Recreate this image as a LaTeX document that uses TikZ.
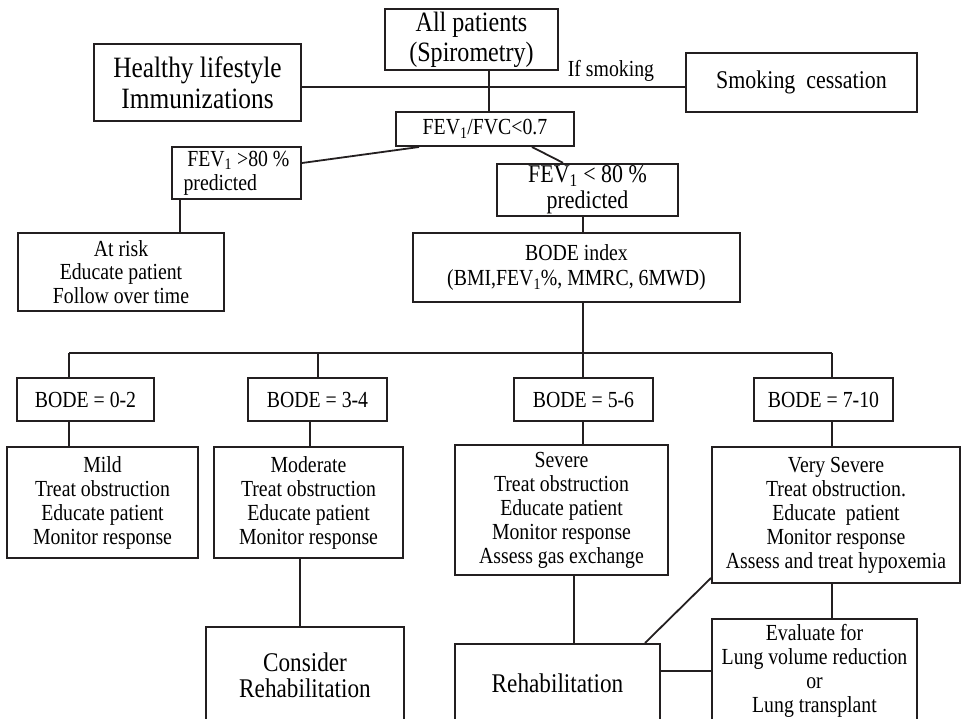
\documentclass[tikz,border=0pt]{standalone}
\usepackage{fontspec}
\setmainfont[FakeStretch=0.86]{Liberation Serif}
\usepackage{tikz}
\definecolor{Bline}{RGB}{35,31,32}
\tikzset{box/.style={draw=Bline,line width=2pt,align=center,inner sep=2pt,
                     font=\fontsize{23}{24}\selectfont},
         link/.style={draw=Bline,line width=1.8pt}}

\begin{document}
\begin{tikzpicture}[x=1pt,y=-1pt]
    \useasboundingbox (0,0) rectangle (962,719);
    \clip (0,0) rectangle (962,719);
    % top row
    \node [box,minimum width=173,minimum height=61,font=\fontsize{28}{30}\selectfont] (allpat) at (471.5,39.5) {All patients\\(Spirometry)};
    \node [box,minimum width=207,minimum height=77,font=\fontsize{29.5}{31}\selectfont] (healthy) at (197.5,82.5) {Healthy lifestyle\\Immunizations};
    \node [box,minimum width=231,minimum height=59,font=\fontsize{25.5}{26}\selectfont] (smoking) at (801.5,82.5) {Smoking\ \ cessation};
    \node [font=\fontsize{23}{24}\selectfont,inner sep=0pt] (ifsmk) at (611,71) {If smoking};
    \node [box,minimum width=178,minimum height=34] (fevfvc) at (485,129) {FEV\textsubscript{1}/FVC<0.7};
    \node [box,minimum width=129,minimum height=52,align=left] (fevhi) at (236.5,173) {\,FEV\textsubscript{1} >80 \%\\predicted};
    \node [box,minimum width=181,minimum height=52,font=\fontsize{25.5}{26}\selectfont] (fevlo) at (587.5,190) {FEV\textsubscript{1} < 80 \%\\predicted};
    \node [box,minimum width=206,minimum height=78,font=\fontsize{23}{23.5}\selectfont] (atrisk) at (121,272) {At risk\\Educate patient\\Follow over time};
    \node [box,minimum width=327,minimum height=69,font=\fontsize{23}{25}\selectfont] (bode) at (576.5,267.5) {BODE index\\(BMI,FEV\textsubscript{1}\%, MMRC, 6MWD)};
    % BODE classes
    \node [box,minimum width=137,minimum height=43] (b1) at (85.5,399.5) {BODE = 0-2};
    \node [box,minimum width=139,minimum height=43] (b2) at (317.5,399.5) {BODE = 3-4};
    \node [box,minimum width=139,minimum height=43] (b3) at (583.5,399.5) {BODE = 5-6};
    \node [box,minimum width=139,minimum height=43] (b4) at (823.5,399.5) {BODE = 7-10};
    \node [box,minimum width=191,minimum height=111] (mild) at (102.5,502.5) {Mild\\Treat obstruction\\Educate patient\\Monitor response};
    \node [box,minimum width=189,minimum height=111] (moder) at (308.5,502.5) {Moderate\\Treat obstruction\\Educate patient\\Monitor response};
    \node [box,minimum width=213,minimum height=130] (severe) at (561.5,510) {Severe\\Treat obstruction\\Educate patient\\Monitor response\\Assess gas exchange};
    \node [box,minimum width=248,minimum height=136] (vsev) at (836,515) {Very Severe\\Treat obstruction.\\Educate\ \ patient\\Monitor response\\Assess and treat hypoxemia};
    % bottom row
    \node [box,minimum width=198,minimum height=96,font=\fontsize{27}{26}\selectfont] (consider) at (305,675) {Consider\\Rehabilitation};
    \node [box,minimum width=205,minimum height=78,font=\fontsize{27}{26}\selectfont] (rehab) at (557.5,683) {Rehabilitation};
    \node [box,minimum width=205,minimum height=104] (evalb) at (814.5,671) {Evaluate for\\Lung volume reduction\\or\\Lung transplant};

    \coordinate (spine) at (489,87);
    \coordinate (trunk) at (583,353);
    \coordinate (bus1) at (69,353);
    \coordinate (bus2) at (318,353);
    \coordinate (bus3) at (583,353);
    \coordinate (bus4) at (832,353);

    \draw [link] (spine |- allpat.south) -- (spine |- fevfvc.north);
    \draw [link] (healthy.east |- spine) -- (smoking.west |- spine);
    \draw [link] ([xshift=24pt]fevfvc.south west) -- ([yshift=10pt]fevhi.east);
    \draw [link] ([xshift=47pt]fevfvc.south) -- ([xshift=67pt]fevlo.north west);
    \draw [link] ([xshift=9pt]fevhi.south west) -- ([xshift=9pt]fevhi.south west |- atrisk.north);
    \draw [link] (trunk |- fevlo.south) -- (trunk |- bode.north);
    \draw [link] (trunk |- bode.south) -- (trunk);
    \draw [link] (bus1) -- (bus4);
    \foreach \i in {1,...,4}
        \draw [link] (bus\i) -- (bus\i |- b\i.north);
    \draw [link] (bus1 |- b1.south) -- (bus1 |- mild.north);
    \draw [link] ([xshift=-7.5pt]b2.south) -- ([xshift=-7.5pt]b2.south |- moder.north);
    \draw [link] (bus3 |- b3.south) -- (bus3 |- severe.north);
    \draw [link] (bus4 |- b4.south) -- (bus4 |- vsev.north);
    \draw [link] ([xshift=-8.5pt]moder.south) -- ([xshift=-8.5pt]moder.south |- consider.north);
    \draw [link] ([xshift=12.5pt]severe.south) -- ([xshift=12.5pt]severe.south |- rehab.north);
    \draw [link] (bus4 |- vsev.south) -- (bus4 |- evalb.north);
    \draw [link] ([xshift=-16pt]rehab.north east) -- ([yshift=6pt]vsev.south west);
    \draw [link] (evalb.west -| rehab.east) -- (evalb.west);
\end{tikzpicture}
\end{document}
